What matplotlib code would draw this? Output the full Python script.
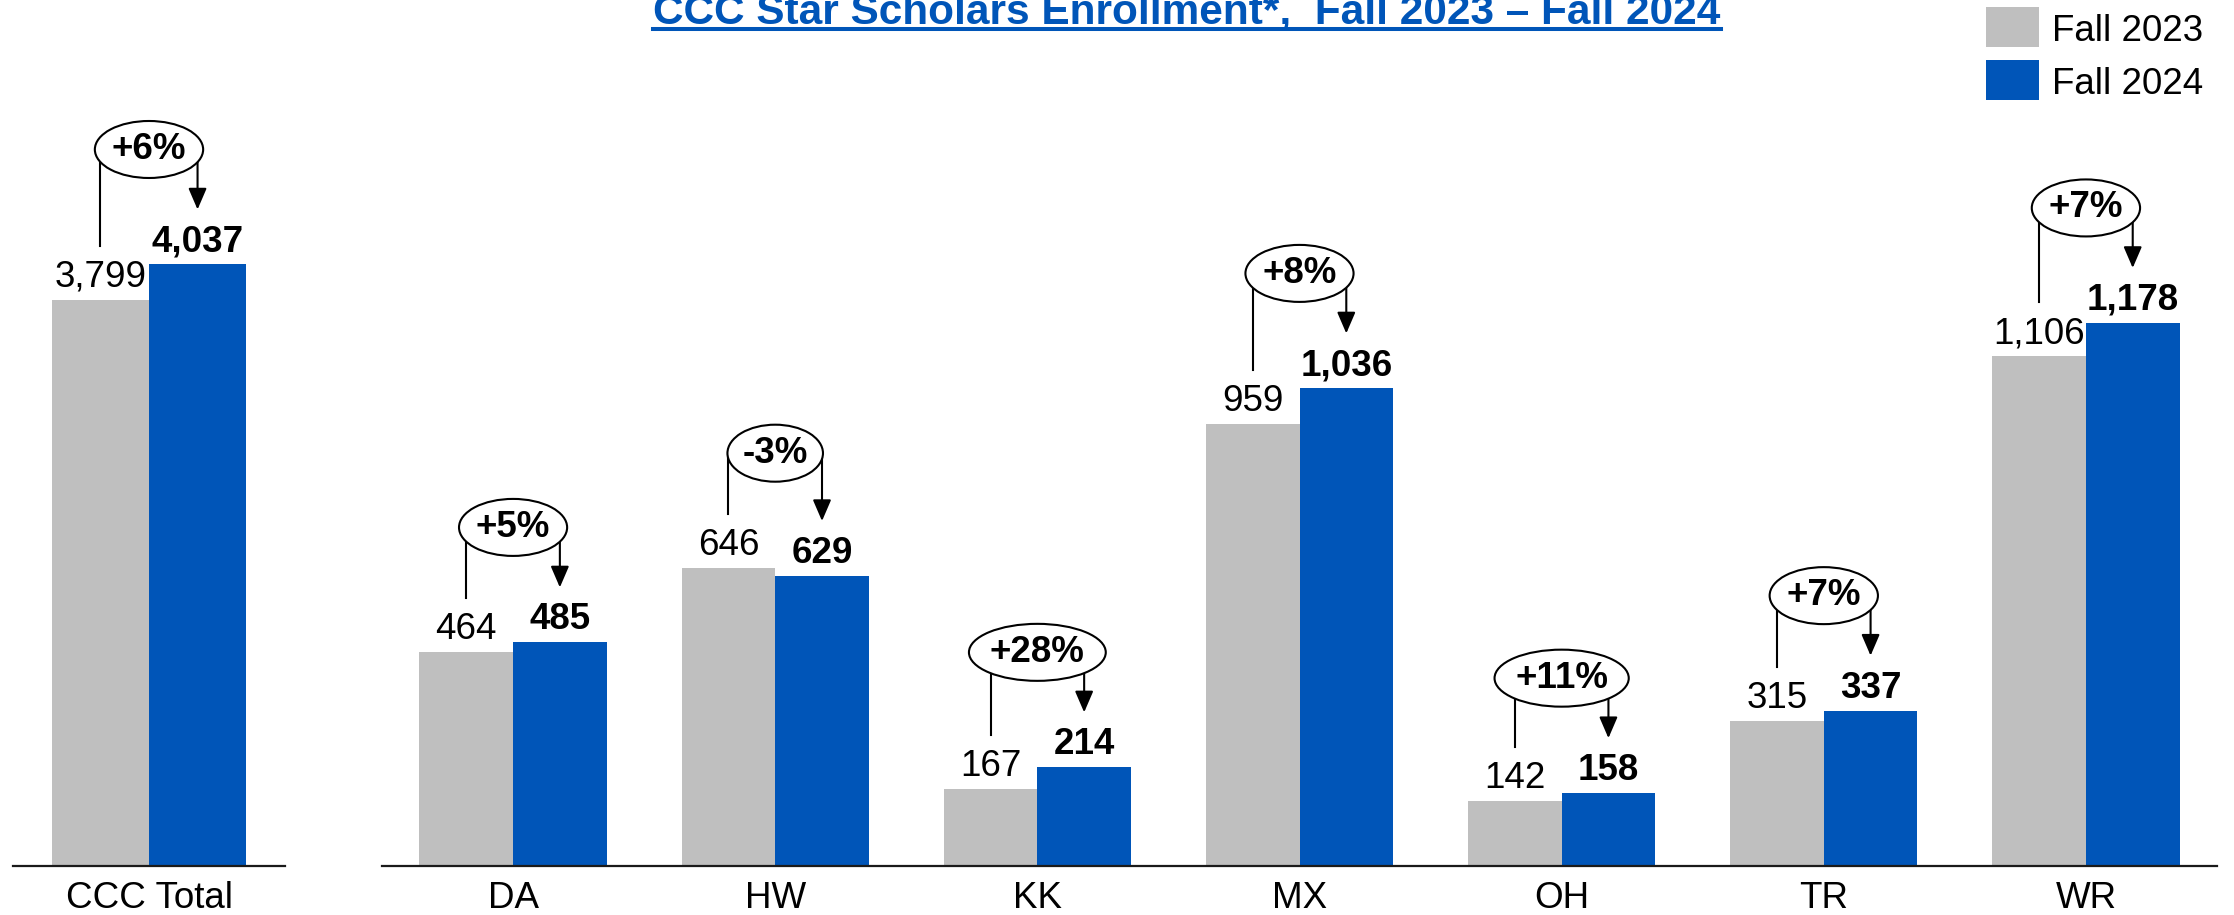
import numpy as np
import matplotlib.pyplot as plt
from matplotlib.patches import Ellipse, Rectangle, FancyArrowPatch
from matplotlib.lines import Line2D
from matplotlib.transforms import IdentityTransform

plt.rcParams['font.family'] = ['Liberation Sans', 'DejaVu Sans']

# data
colleges = ['DA', 'HW', 'KK', 'MX', 'OH', 'TR', 'WR']
fall23 = [464, 646, 167, 959, 142, 315, 1106]
fall24 = [485, 629, 214, 1036, 158, 337, 1178]
pct = ['+5%', '-3%', '+28%', '+8%', '+11%', '+7%', '+7%']
total_name = ['CCC Total']
total23 = [3799]
total24 = [4037]
total_pct = ['+6%']
series = ['Fall 2023', 'Fall 2024']
title = 'CCC Star Scholars Enrollment*,  Fall 2023 \u2013 Fall 2024'

GRAY = '#BFBFBF'
BLUE = '#0055B8'
W, H = 2234, 915
FS = 26.5
BW = 0.357

fig = plt.figure(figsize=(W / 100, H / 100), dpi=100)
ID = IdentityTransform()


def px_axes(x0, x1, ybase, ytop):
    # pixel box measured from the top-left corner
    return fig.add_axes([x0 / W, (H - ybase) / H, (x1 - x0) / W, (ybase - ytop) / H])


ax0 = px_axes(13, 285, 866, 0)
ax1 = px_axes(382, 2217, 866, 0)
ax0.set_ylim(0, 866 / 0.149)
ax1.set_ylim(0, 866 / 0.461)
ax0.set_xlim(-0.5, 0.5)
ax1.set_xlim(-0.5, len(colleges) - 0.5)

for ax, names, a, b in [(ax0, total_name, total23, total24),
                        (ax1, colleges, fall23, fall24)]:
    x = np.arange(len(names))
    ax.bar(x - BW / 2, a, BW, color=GRAY, zorder=2)
    ax.bar(x + BW / 2, b, BW, color=BLUE, zorder=2)
    ax.set_xticks(x, names)
    ax.set_yticks([])
    for s in ['left', 'right', 'top']:
        ax.spines[s].set_visible(False)
    ax.spines['bottom'].set_linewidth(1.6)
    ax.spines['bottom'].set_color('#1a1a1a')
    ax.tick_params(axis='x', length=0, labelsize=FS, pad=11)
    ax.set_facecolor('none')

renderer = fig.canvas.get_renderer()


def annotate_pair(ax, xc, v23, v24, label):
    gx, gy = ax.transData.transform((xc - BW / 2, v23))
    bx, by = ax.transData.transform((xc + BW / 2, v24))
    cx = ax.transData.transform((xc, 0))[0]
    fig.text(gx, gy + 13, f'{v23:,}', ha='center', va='baseline', fontsize=FS,
             transform=ID)
    fig.text(bx, by + 13, f'{v24:,}', ha='center', va='baseline', fontsize=FS,
             weight='bold', transform=ID)
    cy = max(gy, by) + 115
    t = fig.text(cx, cy, label, ha='center', va='center', fontsize=FS,
                 weight='bold', transform=ID, zorder=7)
    tw = t.get_window_extent(renderer).width
    fig.add_artist(Ellipse((cx, cy), 1.4 * tw + 4, 57, transform=ID,
                           facecolor='white', edgecolor='black', lw=1.5, zorder=6))
    fig.add_artist(Line2D([gx, gx], [gy + 54, cy], transform=ID, color='black',
                          lw=1.5, zorder=4))
    fig.add_artist(FancyArrowPatch((bx, cy), (bx, by + 55), transform=ID,
                                   arrowstyle='-|>,head_length=0.65,head_width=0.28',
                                   mutation_scale=20, color='black', lw=1.5,
                                   shrinkA=0, shrinkB=0, zorder=4))


annotate_pair(ax0, 0, total23[0], total24[0], total_pct[0])
for i in range(len(colleges)):
    annotate_pair(ax1, i, fall23[i], fall24[i], pct[i])

# title with underline
tt = fig.text(1187, H - 23, title, ha='center', va='baseline', fontsize=30.5,
              weight='bold', color=BLUE, transform=ID)
bb = tt.get_window_extent(renderer)
fig.add_artist(Line2D([bb.x0, bb.x1], [H - 29, H - 29], transform=ID,
                      color=BLUE, lw=2.9))

# legend
for k, (name, col) in enumerate(zip(series, [GRAY, BLUE])):
    top = 7 + 53 * k
    fig.add_artist(Rectangle((1986, H - top - 40), 53, 40, transform=ID,
                             facecolor=col, edgecolor='none'))
    fig.text(2052, H - top - 34, name, ha='left', va='baseline', fontsize=FS,
             transform=ID)

fig.savefig('out.png', dpi=100)
